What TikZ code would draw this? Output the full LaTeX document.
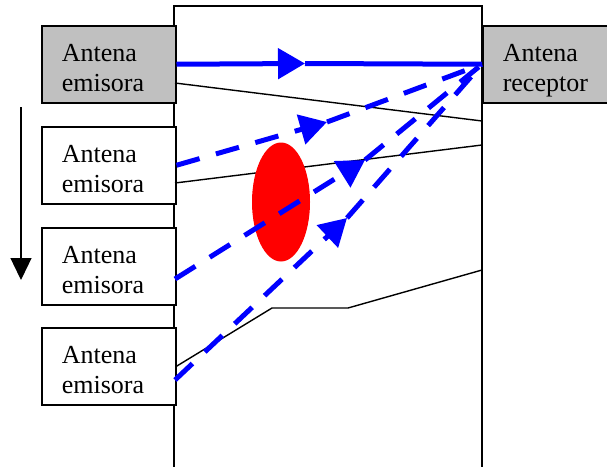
\documentclass[tikz,border=0pt]{standalone}
\usepackage{fontspec}
\setmainfont{Liberation Serif}
\usetikzlibrary{arrows.meta}
\setlength{\parindent}{0pt}
\definecolor{boxgray}{RGB}{192,192,192}
\newcommand{\antlines}[2]{\rule{0pt}{32.5pt}#1\\#2\rule[-8pt]{0pt}{8pt}}

\begin{document}
\begin{tikzpicture}[x=1pt, y=-1pt,
    antbox/.style={draw, line width=1.5pt, fill=white, anchor=north west,
        minimum width=134pt, minimum height=77pt, inner xsep=20pt, inner ysep=0pt,
        text width=94pt, align=left, font=\fontsize{26}{29.5}\selectfont},
    ray/.style={line width=1.4pt},
    wave/.style={blue, line width=5pt},
    wavedash/.style={wave, dash pattern=on 24pt off 17pt},
    tip/.style={-{Triangle[length=27pt, width=30pt]}}]
    \useasboundingbox (0,0) rectangle (607,466);
    % zona de propagacion
    \draw[line width=1.5pt] (174,470) -- (174,6) -- (482,6) -- (482,470);
    % antenas
    \node[antbox, fill=boxgray] (tx1) at (41,25) {\antlines{Antena}{emisora}};
    \node[antbox] (tx2) at (41,126) {\antlines{Antena}{emisora}};
    \node[antbox] (tx3) at (41,227) {\antlines{Antena}{emisora}};
    \node[antbox] (tx4) at (41,327) {\antlines{Antena}{emisora}};
    \node[antbox, fill=boxgray] (rx) at (482,25) {\antlines{Antena}{receptor}};
    % puntos de los rayos
    \coordinate (s1) at (175,83);
    \coordinate (e1) at (482,121);
    \coordinate (s2) at (175,183);
    \coordinate (e2) at (482,145);
    \coordinate (b1) at (272,308);
    \coordinate (b2) at (348,308);
    \coordinate (e4) at (482,270);
    \coordinate (s3) at (175,279);
    \coordinate (s4) at (175,380);
    \coordinate (m1) at (305,63.5);
    \coordinate (m2) at (327,122);
    \coordinate (m3) at (365,160);
    \coordinate (m4) at (347,218);
    % movimiento del emisor
    \coordinate (movtop) at (21,107);
    \coordinate (movbot) at (21,280);
    \draw[line width=1.3pt, -{Triangle[length=22pt, width=21pt]}] (movtop) -- (movbot);
    % rayos
    \draw[ray] (s1) -- (e1);
    \draw[ray] (s2) -- (e2);
    \draw[ray] (tx4.east) -- (b1) -- (b2) -- (e4);
    % obstaculo
    \fill[red] (281,202) ellipse [x radius=29, y radius=59.5];
    % trayectos
    \draw[wave, tip] (tx1.east) -- (m1);
    \draw[wave] (m1) -- (rx.west);
    \draw[wavedash, tip] (tx2.east) -- (m2);
    \draw[wavedash] (m2) -- (rx.west);
    \draw[wavedash, tip] (s3) -- (m3);
    \draw[wavedash] (m3) -- (rx.west);
    \draw[wavedash, tip] (s4) -- (m4);
    \draw[wavedash] (m4) -- (rx.west);
\end{tikzpicture}
\end{document}
